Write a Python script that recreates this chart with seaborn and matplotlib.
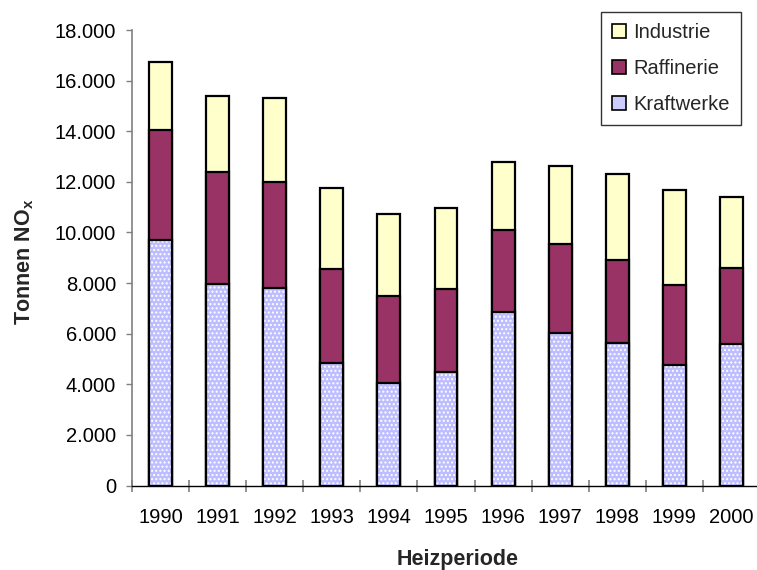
import matplotlib
matplotlib.use("Agg")
import matplotlib.pyplot as plt
from matplotlib.patches import Patch
from matplotlib.ticker import FuncFormatter, FixedLocator
import seaborn as sns
import numpy as np

years = ["1990", "1991", "1992", "1993", "1994", "1995", "1996", "1997", "1998", "1999", "2000"]
kraftwerke = [9700, 7950, 7800, 4840, 4070, 4490, 6850, 6040, 5650, 4760, 5580]
raffinerie = [4330, 4430, 4190, 3720, 3400, 3290, 3250, 3500, 3250, 3180, 3010]
industrie = [2700, 3010, 3310, 3190, 3260, 3190, 2680, 3090, 3410, 3740, 2830]

series_names = ["Industrie", "Raffinerie", "Kraftwerke"]
col_ind = "#FFFFCC"
col_raf = "#993366"
col_kra = "#BDBDFF"

sns.set_theme(style="white")
plt.rcParams["font.family"] = ["Liberation Sans", "DejaVu Sans"]
plt.rcParams["mathtext.fontset"] = "custom"
plt.rcParams["mathtext.bf"] = "Liberation Sans:bold"
plt.rcParams["mathtext.rm"] = "Liberation Sans"
plt.rcParams["hatch.linewidth"] = 1.0

fig = plt.figure(figsize=(7.57, 5.70), dpi=100)
ax = fig.add_axes([132 / 757, 1 - 485.5 / 570, (760 - 132) / 757, (485.5 - 30) / 570])

k = np.array(kraftwerke)
r = np.array(raffinerie)
i = np.array(industrie)
total = k + r + i
kr = k + r

bw = 0.40
lw = 1.6
sns.barplot(x=years, y=total, color=col_ind, saturation=1, width=bw,
            edgecolor="black", linewidth=lw, ax=ax, zorder=2)
sns.barplot(x=years, y=kr, color=col_raf, saturation=1, width=bw,
            edgecolor="black", linewidth=lw, ax=ax, zorder=3)
sns.barplot(x=years, y=k, color=col_kra, saturation=1, width=bw,
            edgecolor="white", linewidth=0, hatch="....", ax=ax, zorder=4)
sns.barplot(x=years, y=k, fill=False, width=bw,
            edgecolor="black", linewidth=lw, ax=ax, zorder=5)

ax.set_ylim(0, 18000)
ax.set_xlim(-0.5, 10.5)
ax.yaxis.set_major_locator(FixedLocator(np.arange(0, 18001, 2000)))
ax.yaxis.set_major_formatter(FuncFormatter(lambda v, p: f"{int(v):,}".replace(",", ".")))

ax.spines["top"].set_visible(False)
ax.spines["right"].set_visible(False)
ax.spines["left"].set_color("#808080")
ax.spines["left"].set_linewidth(1.2)
ax.spines["bottom"].set_color("black")
ax.spines["bottom"].set_linewidth(1.0)

fs = 14.5
ax.tick_params(axis="y", which="major", direction="out", length=4.5, width=1,
               color="#808080", left=True, pad=7, labelsize=fs, labelcolor="black")
ax.tick_params(axis="x", which="major", length=0, pad=16, labelsize=fs, labelcolor="black")
ax.set_xticks(np.arange(-0.5, 10.0, 1.0), minor=True)
ax.tick_params(axis="x", which="minor", direction="inout", length=9, width=1.2,
               color="#808080", bottom=True)

ax.set_xlabel("Heizperiode", fontsize=15.5, fontweight="bold")
ax.set_ylabel(r"Tonnen NO$_\mathbf{x}$", fontsize=15.5, fontweight="bold")
ax.xaxis.set_label_coords((458 - 132) / (760 - 132), -(559 - 485.5) / (485.5 - 30))
ax.yaxis.set_label_coords(-(132 - 25) / (760 - 132), (485.5 - 262) / (485.5 - 30))
ax.xaxis.label.set_va("center")
ax.yaxis.label.set_va("center")

handles = [
    Patch(facecolor=col_ind, edgecolor="black", linewidth=1.2),
    Patch(facecolor=col_raf, edgecolor="black", linewidth=1.2),
    Patch(facecolor="#CCCCFF", edgecolor="black", linewidth=1.2),
]
leg = fig.legend(handles, series_names, loc="upper right",
                 bbox_to_anchor=(741 / 757, 1 - 12 / 570), frameon=True,
                 fontsize=fs, handlelength=0.7, handleheight=0.7,
                 handletextpad=0.35, labelspacing=0.85, borderpad=0.55,
                 fancybox=False, edgecolor="black", borderaxespad=0)
leg.get_frame().set_linewidth(1.0)

fig.savefig("out.png", dpi=100)
